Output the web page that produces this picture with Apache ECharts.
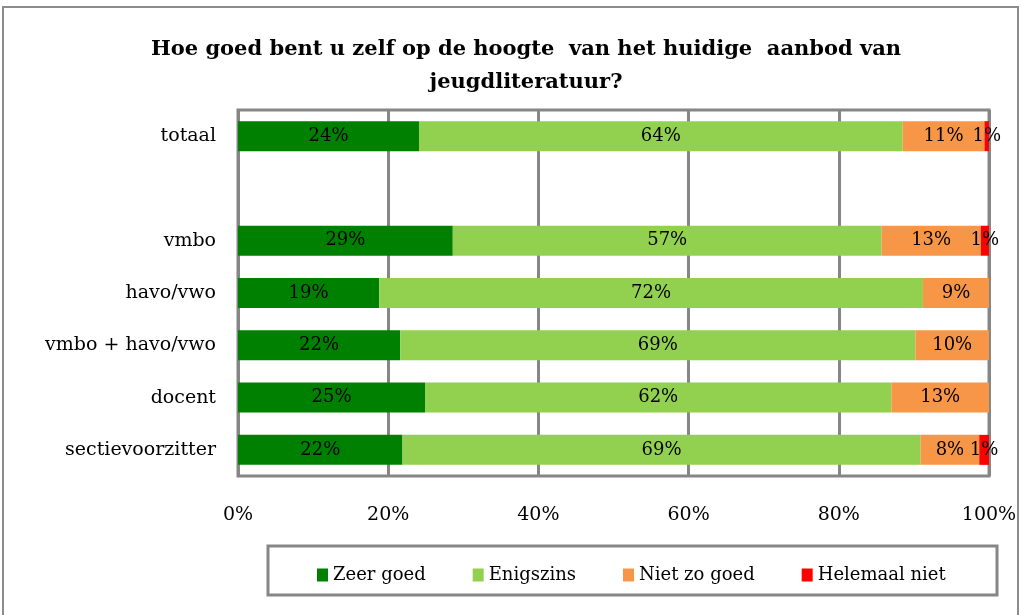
<!DOCTYPE html>
<html>
<head>
<meta charset="utf-8">
<script src="https://cdn.jsdelivr.net/npm/echarts@6/dist/echarts.min.js"></script>
<style>
	html, body { margin: 0; padding: 0; background: #fff; }
	#chart { width: 1022px; height: 615px; }
</style>
</head>
<body>
<div id="chart"></div>
<script>
var categories = ['totaal', '', 'vmbo', 'havo/vwo', 'vmbo + havo/vwo', 'docent', 'sectievoorzitter'];
var seriesNames = ['Zeer goed', 'Enigszins', 'Niet zo goed', 'Helemaal niet'];
var zeerGoed = [24.1, null, 28.6, 18.8, 21.6, 24.9, 21.9];
var enigszins = [64.4, null, 57.1, 72.4, 68.6, 62.1, 69.0];
var nietZoGoed = [10.9, null, 13.2, 8.8, 9.8, 13.0, 7.8];
var helemaalNiet = [0.6, null, 1.1, 0, 0, 0, 1.3];
var xTicks = [0, 20, 40, 60, 80, 100];

var color = ['#008000', '#92d050', '#f79646', '#ff0000'];
var font = 'DejaVu Serif';
var gray = '#868686';

var chart = echarts.init(document.getElementById('chart'));

function makeSeries(name, data, c) {
	return {
		name: name,
		type: 'bar',
		stack: 'all',
		barWidth: 30,
		data: data,
		itemStyle: { color: c },
		label: {
			show: true,
			position: 'inside',
			color: '#000',
			fontFamily: font,
			fontSize: 18,
			formatter: function (p) {
				if (!p.value) return '';
				return Math.round(p.value) + '%';
			}
		}
	};
}

var option = {
	backgroundColor: '#fff',
	animation: false,
	title: {
		text: 'Hoe goed bent u zelf op de hoogte  van het huidige  aanbod van\njeugdliteratuur?',
		left: 521,
		top: 28,
		textAlign: 'center',
		textStyle: {
			fontFamily: font,
			fontWeight: 'bold',
			fontSize: 21,
			lineHeight: 33,
			color: '#000'
		}
	},
	legend: {
		left: 312,
		top: 561,
		itemWidth: 11,
		itemHeight: 13,
		itemGap: 47,
		icon: 'rect',
		textStyle: { fontFamily: font, fontSize: 18, color: '#000' },
		data: seriesNames
	},
	grid: {
		left: 238,
		right: 33,
		top: 110,
		bottom: 139,
		show: true,
		borderColor: gray,
		borderWidth: 3
	},
	xAxis: {
		type: 'value',
		min: xTicks[0],
		max: xTicks[xTicks.length - 1],
		interval: 20,
		axisLine: { show: false },
		axisTick: { show: false },
		splitLine: { show: true, lineStyle: { color: gray, width: 3 } },
		axisLabel: {
			margin: 30,
			fontFamily: font,
			fontSize: 19,
			color: '#000',
			formatter: '{value}%'
		}
	},
	yAxis: {
		type: 'category',
		inverse: true,
		data: categories,
		axisLine: { show: false },
		axisTick: { show: false },
		axisLabel: {
			margin: 22,
			fontFamily: font,
			fontSize: 19,
			color: '#000'
		}
	},
	graphic: [
		{
			type: 'rect',
			shape: { x: 3, y: 7, width: 1015, height: 640 },
			style: { fill: null, stroke: '#8c8c8c', lineWidth: 2 },
			silent: true
		},
		{
			type: 'rect',
			shape: { x: 268, y: 546, width: 729, height: 49 },
			style: { fill: null, stroke: gray, lineWidth: 3 },
			silent: true
		}
	],
	series: [
		makeSeries(seriesNames[0], zeerGoed, color[0]),
		makeSeries(seriesNames[1], enigszins, color[1]),
		makeSeries(seriesNames[2], nietZoGoed, color[2]),
		makeSeries(seriesNames[3], helemaalNiet, color[3])
	]
};
chart.setOption(option);
</script>
</body>
</html>
